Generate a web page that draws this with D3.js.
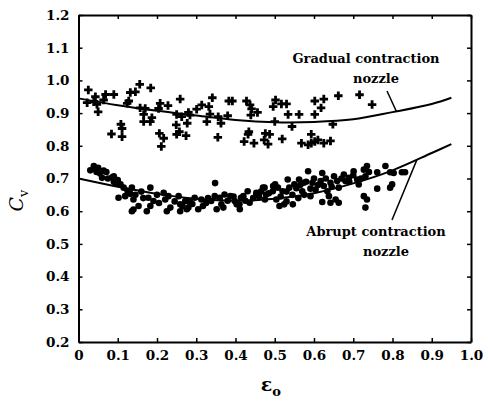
<!DOCTYPE html>
<html>
<head>
<meta charset="utf-8">
<script src="https://cdn.jsdelivr.net/npm/d3@7"></script>
<style>
  html, body { margin: 0; padding: 0; background: #fff; }
  svg text { font-family: "DejaVu Serif", "Liberation Serif", serif; fill: #000; }
</style>
</head>
<body>
<svg id="chart" width="488" height="402"></svg>
<script>
// Axis ticks
const xTicks = [0, 0.1, 0.2, 0.3, 0.4, 0.5, 0.6, 0.7, 0.8, 0.9, 1.0];
const xTickLabels = ["0", "0.1", "0.2", "0.3", "0.4", "0.5", "0.6", "0.7", "0.8", "0.9", "1.0"];
const yTicks = [0.2, 0.3, 0.4, 0.5, 0.6, 0.7, 0.8, 0.9, 1.0, 1.1, 1.2];
const yTickLabels = ["0.2", "0.3", "0.4", "0.5", "0.6", "0.7", "0.8", "0.9", "1.0", "1.1", "1.2"];

// Gradual contraction nozzle: measured points (crosses)
const gradualX = [0.025,0.043,0.022,0.039,0.047,0.050,0.069,0.064,0.090,0.084,0.108,0.111,0.111,0.124,0.128,0.132,0.145,0.156,0.184,0.157,0.170,0.166,0.166,0.183,0.187,0.208,0.204,0.228,0.206,0.217,0.211,0.259,0.250,0.263,0.249,0.257,0.250,0.274,0.280,0.284,0.277,0.301,0.314,0.327,0.341,0.332,0.335,0.356,0.363,0.355,0.380,0.383,0.392,0.428,0.437,0.441,0.439,0.456,0.434,0.432,0.422,0.447,0.476,0.487,0.473,0.483,0.502,0.496,0.517,0.530,0.534,0.562,0.500,0.544,0.519,0.568,0.585,0.593,0.593,0.602,0.610,0.625,0.642,0.602,0.625,0.618,0.602,0.662,0.648,0.716,0.748];
const gradualY = [0.971,0.950,0.932,0.935,0.927,0.904,0.957,0.940,0.957,0.836,0.866,0.853,0.828,0.930,0.937,0.963,0.965,0.988,0.977,0.916,0.914,0.896,0.874,0.874,0.886,0.930,0.914,0.923,0.838,0.823,0.798,0.943,0.896,0.889,0.864,0.843,0.835,0.831,0.902,0.894,0.869,0.912,0.925,0.874,0.947,0.920,0.897,0.889,0.869,0.826,0.892,0.937,0.937,0.937,0.925,0.913,0.894,0.902,0.843,0.835,0.813,0.808,0.838,0.835,0.818,0.805,0.940,0.920,0.928,0.928,0.896,0.896,0.874,0.859,0.821,0.808,0.803,0.835,0.808,0.813,0.818,0.808,0.815,0.937,0.943,0.916,0.896,0.953,0.866,0.956,0.926];

// Abrupt contraction nozzle: measured points (dots)
const abruptX = [0.039,0.039,0.046,0.064,0.071,0.060,0.086,0.090,0.090,0.107,0.115,0.102,0.119,0.132,0.136,0.140,0.140,0.153,0.136,0.178,0.183,0.183,0.191,0.174,0.217,0.221,0.229,0.234,0.225,0.255,0.259,0.259,0.272,0.276,0.280,0.284,0.283,0.296,0.305,0.313,0.317,0.338,0.347,0.348,0.352,0.360,0.364,0.369,0.372,0.387,0.398,0.403,0.410,0.411,0.414,0.420,0.431,0.436,0.453,0.453,0.470,0.474,0.475,0.478,0.495,0.496,0.501,0.504,0.508,0.512,0.520,0.524,0.533,0.537,0.546,0.550,0.562,0.570,0.574,0.585,0.591,0.591,0.596,0.604,0.617,0.621,0.621,0.625,0.634,0.638,0.642,0.642,0.651,0.655,0.659,0.663,0.663,0.676,0.680,0.689,0.701,0.710,0.714,0.727,0.735,0.731,0.727,0.735,0.731,0.761,0.761,0.782,0.794,0.803,0.794,0.799,0.824,0.832,0.030,0.050,0.055,0.075,0.095,0.100,0.125,0.145,0.160,0.165,0.200,0.205,0.245,0.265,0.290,0.325,0.330,0.380,0.395,0.425,0.445,0.460,0.465,0.485,0.515,0.530,0.545,0.555,0.565,0.580,0.600,0.610,0.630,0.645,0.670,0.690,0.700,0.720,0.740,0.560,0.575,0.530];
const abruptY = [0.738,0.730,0.720,0.724,0.720,0.702,0.704,0.690,0.707,0.682,0.672,0.641,0.646,0.653,0.672,0.636,0.605,0.616,0.600,0.641,0.672,0.616,0.631,0.600,0.656,0.636,0.646,0.611,0.600,0.646,0.621,0.600,0.631,0.606,0.611,0.626,0.631,0.641,0.606,0.636,0.616,0.631,0.646,0.686,0.606,0.641,0.621,0.611,0.651,0.646,0.631,0.621,0.621,0.606,0.641,0.646,0.661,0.626,0.651,0.656,0.672,0.672,0.636,0.651,0.661,0.677,0.682,0.636,0.672,0.616,0.661,0.621,0.697,0.672,0.621,0.682,0.697,0.661,0.687,0.722,0.669,0.646,0.687,0.666,0.692,0.717,0.628,0.677,0.661,0.646,0.687,0.626,0.707,0.636,0.692,0.672,0.626,0.712,0.692,0.702,0.722,0.697,0.682,0.727,0.738,0.707,0.646,0.636,0.611,0.719,0.669,0.738,0.719,0.717,0.672,0.682,0.719,0.719,0.725,0.733,0.715,0.700,0.685,0.695,0.662,0.650,0.660,0.640,0.650,0.625,0.630,0.615,0.622,0.625,0.640,0.632,0.645,0.632,0.640,0.645,0.660,0.655,0.645,0.660,0.650,0.670,0.680,0.690,0.700,0.680,0.700,0.675,0.700,0.690,0.710,0.700,0.720,0.640,0.650,0.630];

// Fitted curves, sampled along their length
const gradualCurveX = [0, 0.1, 0.2, 0.3, 0.4, 0.5, 0.6, 0.7, 0.8, 0.9, 0.95];
const gradualCurveY = [0.945, 0.924, 0.907, 0.893, 0.879, 0.872, 0.873, 0.881, 0.903, 0.928, 0.947];
const abruptCurveX = [0, 0.1, 0.2, 0.3, 0.4, 0.5, 0.6, 0.7, 0.8, 0.9, 0.95];
const abruptCurveY = [0.700, 0.675, 0.653, 0.638, 0.632, 0.638, 0.655, 0.685, 0.725, 0.778, 0.805];

const svg = d3.select("#chart");
const margin = { left: 78.5, right: 17, top: 15, bottom: 60 };
const W = 488, H = 402;
const x = d3.scaleLinear().domain([0, 1]).range([margin.left, W - margin.right]);
const y = d3.scaleLinear().domain([0.2, 1.2]).range([H - margin.bottom, margin.top]);

const tickFont = "bold 13.5px 'DejaVu Serif', serif";

// Axes with inward ticks on all four sides
const tickLen = 4;
const axisB = svg.append("g").attr("transform", `translate(0,${y(0.2)})`)
  .call(d3.axisBottom(x).tickValues(xTicks).tickSizeInner(-tickLen).tickSizeOuter(0)
    .tickPadding(8).tickFormat((d, i) => xTickLabels[i]));
const axisT = svg.append("g").attr("transform", `translate(0,${y(1.2)})`)
  .call(d3.axisTop(x).tickValues(xTicks).tickSizeInner(-tickLen).tickSizeOuter(0).tickFormat(""));
const axisL = svg.append("g").attr("transform", `translate(${x(0)},0)`)
  .call(d3.axisLeft(y).tickValues(yTicks).tickSizeInner(-tickLen).tickSizeOuter(0)
    .tickPadding(9).tickFormat((d, i) => yTickLabels[i]));
const axisR = svg.append("g").attr("transform", `translate(${x(1)},0)`)
  .call(d3.axisRight(y).tickValues(yTicks).tickSizeInner(-tickLen).tickSizeOuter(0).tickFormat(""));

[axisB, axisT, axisL, axisR].forEach(g => {
  g.select(".domain").attr("stroke", "#000").attr("stroke-width", 2);
  g.selectAll(".tick line").attr("stroke", "#000").attr("stroke-width", 1.5);
  g.selectAll(".tick text").style("font", tickFont).attr("fill", "#000");
});

// Scatter: crosses for gradual nozzle
const cross = d3.symbol().type(d3.symbolCross).size(40);
svg.append("g").selectAll("path")
  .data(gradualX.map((v, i) => [v, gradualY[i]]))
  .join("path")
  .attr("d", cross)
  .attr("transform", d => `translate(${x(d[0])},${y(d[1])})`)
  .attr("fill", "#000");

// Scatter: dots for abrupt nozzle
svg.append("g").selectAll("circle")
  .data(abruptX.map((v, i) => [v, abruptY[i]]))
  .join("circle")
  .attr("cx", d => x(d[0]))
  .attr("cy", d => y(d[1]))
  .attr("r", 3.3)
  .attr("fill", "#000");

// Fitted curves
const line = d3.line().x(d => x(d[0])).y(d => y(d[1])).curve(d3.curveCatmullRom);
svg.append("path")
  .datum(gradualCurveX.map((v, i) => [v, gradualCurveY[i]]))
  .attr("d", line).attr("fill", "none").attr("stroke", "#000").attr("stroke-width", 2);
svg.append("path")
  .datum(abruptCurveX.map((v, i) => [v, abruptCurveY[i]]))
  .attr("d", line).attr("fill", "none").attr("stroke", "#000").attr("stroke-width", 2);

// Annotations with leader lines
const annFont = "bold 13px 'DejaVu Serif', serif";
function annotate(lines, cx, baseY, from, to) {
  lines.forEach((t, i) => {
    svg.append("text").attr("x", cx + (i === 1 ? 10 : 0)).attr("y", baseY + i * 20)
      .attr("text-anchor", "middle").attr("fill", "#000").style("font", annFont).text(t);
  });
  svg.append("line")
    .attr("x1", from[0]).attr("y1", from[1])
    .attr("x2", x(to[0])).attr("y2", y(to[1]))
    .attr("stroke", "#000").attr("stroke-width", 1.5);
}
annotate(["Gradual contraction", "nozzle"], 366, 63, [387, 91], [0.81, 0.905]);
annotate(["Abrupt contraction", "nozzle"], 376, 236, [392, 220], [0.862, 0.757]);

// Axis titles
const xTitle = svg.append("text").attr("x", x(0.5) - 4).attr("y", 391)
  .attr("text-anchor", "middle").attr("fill", "#000")
  .style("font", "bold 19px 'DejaVu Serif', serif");
xTitle.append("tspan").attr("fill", "#000").text("ε");
xTitle.append("tspan").attr("dy", 5).attr("fill", "#000").style("font-size", "13px").text("o");

const yTitle = svg.append("text")
  .attr("transform", `translate(23,${y(0.7) + 22}) rotate(-90)`)
  .attr("text-anchor", "middle").attr("fill", "#000")
  .style("font", "italic 19px 'DejaVu Serif', serif");
yTitle.append("tspan").attr("fill", "#000").text("C");
yTitle.append("tspan").attr("dy", 5).attr("fill", "#000").style("font-size", "13px")
  .style("font-style", "normal").text("v");
</script>
</body>
</html>
